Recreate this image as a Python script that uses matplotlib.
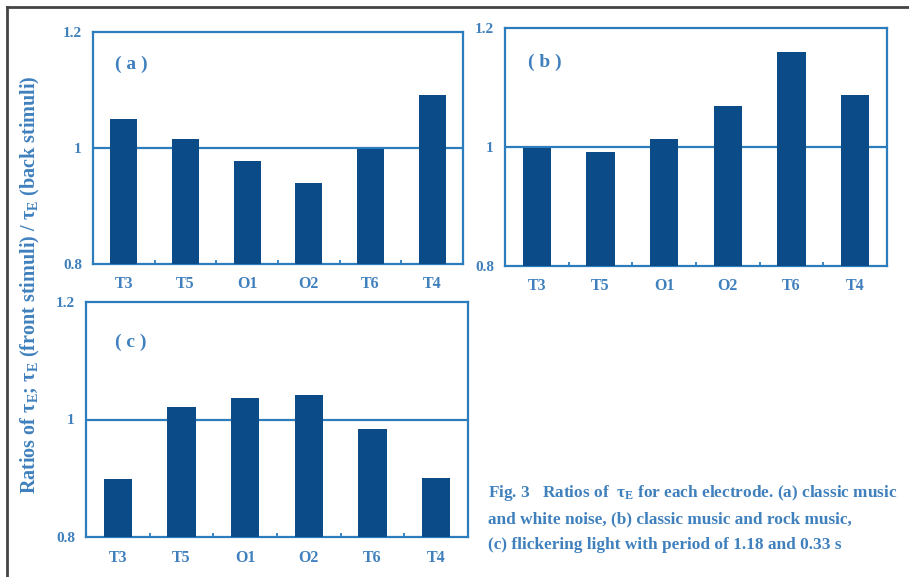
import matplotlib
matplotlib.use("Agg")
import matplotlib.pyplot as plt
from matplotlib.lines import Line2D

plt.rcParams['font.family'] = ['Liberation Serif', 'DejaVu Serif']
plt.rcParams['font.weight'] = 'bold'
plt.rcParams['mathtext.fontset'] = 'custom'
plt.rcParams['mathtext.rm'] = 'Liberation Serif:bold'
plt.rcParams['mathtext.it'] = 'Liberation Serif:italic:bold'
plt.rcParams['mathtext.default'] = 'rm'

electrodes = ["T3", "T5", "O1", "O2", "T6", "T4"]
ratios_a = [1.050, 1.015, 0.978, 0.940, 0.998, 1.091]
ratios_b = [0.998, 0.992, 1.013, 1.069, 1.160, 1.087]
ratios_c = [0.898, 1.022, 1.037, 1.041, 0.983, 0.900]
panel_labels = ["( a )", "( b )", "( c )"]
yticks = [0.8, 1.0, 1.2]
ytick_labels = ["0.8", "1", "1.2"]

bar_color = "#0b4c88"
axis_color = "#2c7dbd"
text_color = "#3f80bd"

fig = plt.figure(figsize=(9.09, 5.77), dpi=100)

rects = [
    [93/909, (577-264)/577, 370/909, 232/577],
    [505/909, (577-266)/577, 382/909, 238/577],
    [86/909, (577-537)/577, 382/909, 235/577],
]
label_pos = [(0.06, 0.86), (0.06, 0.855), (0.076, 0.83)]

for rect, vals, lab, lp in zip(rects, [ratios_a, ratios_b, ratios_c], panel_labels, label_pos):
    ax = fig.add_axes(rect)
    x = range(len(electrodes))
    ax.bar(x, [v - 0.8 for v in vals], bottom=0.8, width=0.44, color=bar_color, zorder=3)
    ax.axhline(1.0, color=axis_color, lw=1.6, zorder=2)
    ax.set_xlim(-0.5, len(electrodes) - 0.5)
    ax.set_ylim(0.8, 1.2)
    ax.set_yticks(yticks)
    ax.set_yticklabels(ytick_labels)
    ax.set_xticks(list(x))
    ax.set_xticklabels(electrodes)
    ax.set_xticks([i + 0.5 for i in range(len(electrodes) - 1)], minor=True)
    ax.tick_params(axis='x', which='major', length=0, pad=9, labelsize=11.5, labelcolor=text_color)
    ax.tick_params(axis='x', which='minor', length=3, direction='in', color=axis_color, width=1.3)
    ax.tick_params(axis='y', length=0, pad=8, labelsize=11, labelcolor=text_color)
    for s in ax.spines.values():
        s.set_color(axis_color)
        s.set_linewidth(1.6)
    ax.text(lp[0], lp[1], lab, transform=ax.transAxes, fontsize=14, color=text_color,
            ha='left', va='center')

fig.text(30/909, 1 - 285/577,
         r"Ratios of $\tau_{\rm E}$; $\tau_{\rm E}$ (front stimuli) / $\tau_{\rm E}$ (back stimuli)",
         rotation=90, ha='center', va='center', fontsize=14.5, color=text_color)

caption = [
    r"Fig. 3   Ratios of  $\tau_{\rm E}$ for each electrode. (a) classic music",
    "and white noise, (b) classic music and rock music,",
    "(c) flickering light with period of 1.18 and 0.33 s",
]
for i, line in enumerate(caption):
    fig.text(488/909, 1 - (493 + 26*i)/577, line, ha='left', va='center',
             fontsize=12.4, color=text_color)

# outer frame (top and left edges)
fig.add_artist(Line2D([7/909, 7/909], [0, 1 - 7/577], transform=fig.transFigure,
                      color="#444444", lw=2))
fig.add_artist(Line2D([7/909, 1], [1 - 7/577, 1 - 7/577], transform=fig.transFigure,
                      color="#444444", lw=2))

fig.savefig("out.png", dpi=100)
